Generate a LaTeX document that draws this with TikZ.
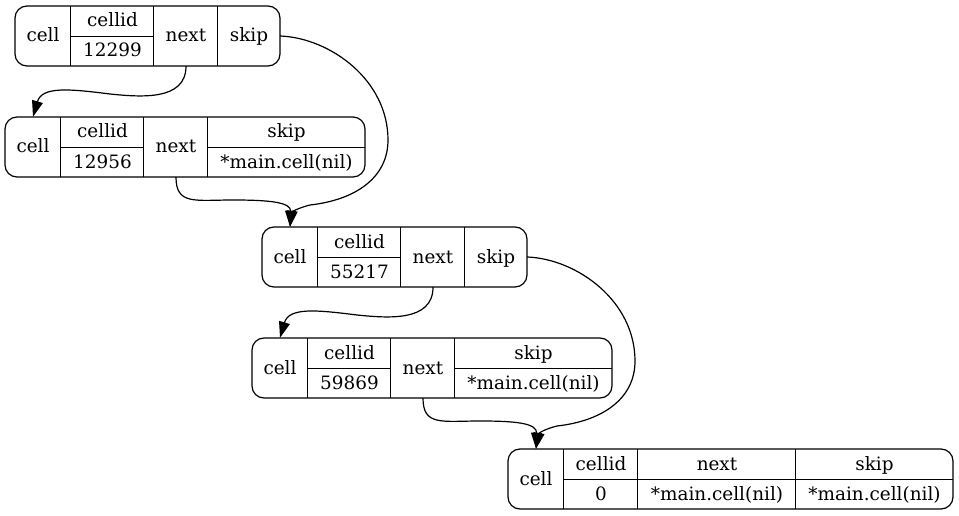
\documentclass[tikz,border=0pt]{standalone}
\usepackage{fontspec}
\setmainfont{DejaVu Serif}
\usetikzlibrary{arrows.meta}
\tikzset{
  rec/.style={draw, line width=1.2pt, rounded corners=12pt, inner sep=0pt, minimum height=60pt},
  fld/.style={inner sep=0pt, text height=16pt, text depth=4pt},
  divider/.style={line width=1.2pt},
  link/.style={line width=1.2pt, -{Triangle[length=16pt,width=11pt]}},
}
\begin{document}
\begin{tikzpicture}[x=1pt,y=-1pt,font=\fontsize{18.4}{22}\selectfont]
\useasboundingbox (0,0) rectangle (959,516);

% ---- record 1 ----
\node[rec, minimum width=265pt] (r1) at (147.5,36) {};
\node[fld, minimum width=56pt, minimum height=60pt] (r1cell) at (43,36) {cell};
\node[fld, minimum width=83pt, minimum height=30pt] (r1idk) at (112.5,21) {cellid};
\node[fld, minimum width=83pt, minimum height=30pt] (r1idv) at (112.5,51) {12299};
\node[fld, minimum width=64pt, minimum height=60pt] (r1next) at (186,36) {next};
\node[fld, minimum width=62pt, minimum height=60pt] (r1skip) at (249,36) {skip};
\draw[divider] (r1idk.north west) -- (r1idv.south west);
\draw[divider] (r1idk.south west) -- (r1idk.south east);
\draw[divider] (r1next.north west) -- (r1next.south west);
\draw[divider] (r1skip.north west) -- (r1skip.south west);

% ---- record 2 ----
\node[rec, minimum width=360pt] (r2) at (185,147) {};
\node[fld, minimum width=56pt, minimum height=60pt] (r2cell) at (33,147) {cell};
\node[fld, minimum width=83pt, minimum height=30pt] (r2idk) at (102.5,132) {cellid};
\node[fld, minimum width=83pt, minimum height=30pt] (r2idv) at (102.5,162) {12956};
\node[fld, minimum width=64pt, minimum height=60pt] (r2next) at (176,147) {next};
\node[fld, minimum width=157pt, minimum height=30pt] (r2skk) at (286.5,132) {skip};
\node[fld, minimum width=157pt, minimum height=30pt] (r2skv) at (286.5,162) {*main.cell(nil)};
\draw[divider] (r2idk.north west) -- (r2idv.south west);
\draw[divider] (r2idk.south west) -- (r2idk.south east);
\draw[divider] (r2next.north west) -- (r2next.south west);
\draw[divider] (r2skk.north west) -- (r2skv.south west);
\draw[divider] (r2skk.south west) -- (r2skk.south east);

% ---- record 3 ----
\node[rec, minimum width=265pt] (r3) at (394.5,257) {};
\node[fld, minimum width=56pt, minimum height=60pt] (r3cell) at (290,257) {cell};
\node[fld, minimum width=83pt, minimum height=30pt] (r3idk) at (359.5,242) {cellid};
\node[fld, minimum width=83pt, minimum height=30pt] (r3idv) at (359.5,272) {55217};
\node[fld, minimum width=64pt, minimum height=60pt] (r3next) at (433,257) {next};
\node[fld, minimum width=62pt, minimum height=60pt] (r3skip) at (496,257) {skip};
\draw[divider] (r3idk.north west) -- (r3idv.south west);
\draw[divider] (r3idk.south west) -- (r3idk.south east);
\draw[divider] (r3next.north west) -- (r3next.south west);
\draw[divider] (r3skip.north west) -- (r3skip.south west);

% ---- record 4 ----
\node[rec, minimum width=360pt] (r4) at (432,368) {};
\node[fld, minimum width=56pt, minimum height=60pt] (r4cell) at (280,368) {cell};
\node[fld, minimum width=83pt, minimum height=30pt] (r4idk) at (349.5,353) {cellid};
\node[fld, minimum width=83pt, minimum height=30pt] (r4idv) at (349.5,383) {59869};
\node[fld, minimum width=64pt, minimum height=60pt] (r4next) at (423,368) {next};
\node[fld, minimum width=157pt, minimum height=30pt] (r4skk) at (533.5,353) {skip};
\node[fld, minimum width=157pt, minimum height=30pt] (r4skv) at (533.5,383) {*main.cell(nil)};
\draw[divider] (r4idk.north west) -- (r4idv.south west);
\draw[divider] (r4idk.south west) -- (r4idk.south east);
\draw[divider] (r4next.north west) -- (r4next.south west);
\draw[divider] (r4skk.north west) -- (r4skv.south west);
\draw[divider] (r4skk.south west) -- (r4skk.south east);

% ---- record 5 (tail) ----
\node[rec, minimum width=445pt] (r5) at (730.5,479) {};
\node[fld, minimum width=56pt, minimum height=60pt] (r5cell) at (536,479) {cell};
\node[fld, minimum width=74pt, minimum height=30pt] (r5idk) at (601,464) {cellid};
\node[fld, minimum width=74pt, minimum height=30pt] (r5idv) at (601,494) {0};
\node[fld, minimum width=158pt, minimum height=30pt] (r5nxk) at (717,464) {next};
\node[fld, minimum width=158pt, minimum height=30pt] (r5nxv) at (717,494) {*main.cell(nil)};
\node[fld, minimum width=157pt, minimum height=30pt] (r5skk) at (874.5,464) {skip};
\node[fld, minimum width=157pt, minimum height=30pt] (r5skv) at (874.5,494) {*main.cell(nil)};
\draw[divider] (r5idk.north west) -- (r5idv.south west);
\draw[divider] (r5nxk.north west) -- (r5nxv.south west);
\draw[divider] (r5skk.north west) -- (r5skv.south west);
\draw[divider] (r5idk.south west) -- (r5skk.south east);

% ---- next pointers ----
\draw[link] (r1next.south) .. controls +(0,35) and (140,97) .. (110,94)
  .. controls (70,89) and (42,86) .. (r2cell.north);
\draw[link] (r2next.south) .. controls +(0,28) and (195,200) .. (233,200)
  .. controls (268,200) and (291,202) .. (r3cell.north);
\draw[link] (r3next.south) .. controls +(0,35) and (387,318) .. (357,315)
  .. controls (317,310) and (289,307) .. (r4cell.north);
\draw[link] (r4next.south) .. controls +(0,28) and (442,421) .. (480,421)
  .. controls (515,421) and (537,423) .. (r5cell.north);

% ---- skip pointers ----
\draw[link] (r1skip.east) .. controls +(50,2) and (388,80) .. (388,140)
  .. controls (388,178) and (355,200) .. (310,205)
  .. controls (298,208) and (292,212) .. (r3cell.north);
\draw[link] (r3skip.east) .. controls +(50,2) and (635,301) .. (635,361)
  .. controls (635,399) and (602,421) .. (557,426)
  .. controls (545,429) and (539,433) .. (r5cell.north);
\end{tikzpicture}
\end{document}
